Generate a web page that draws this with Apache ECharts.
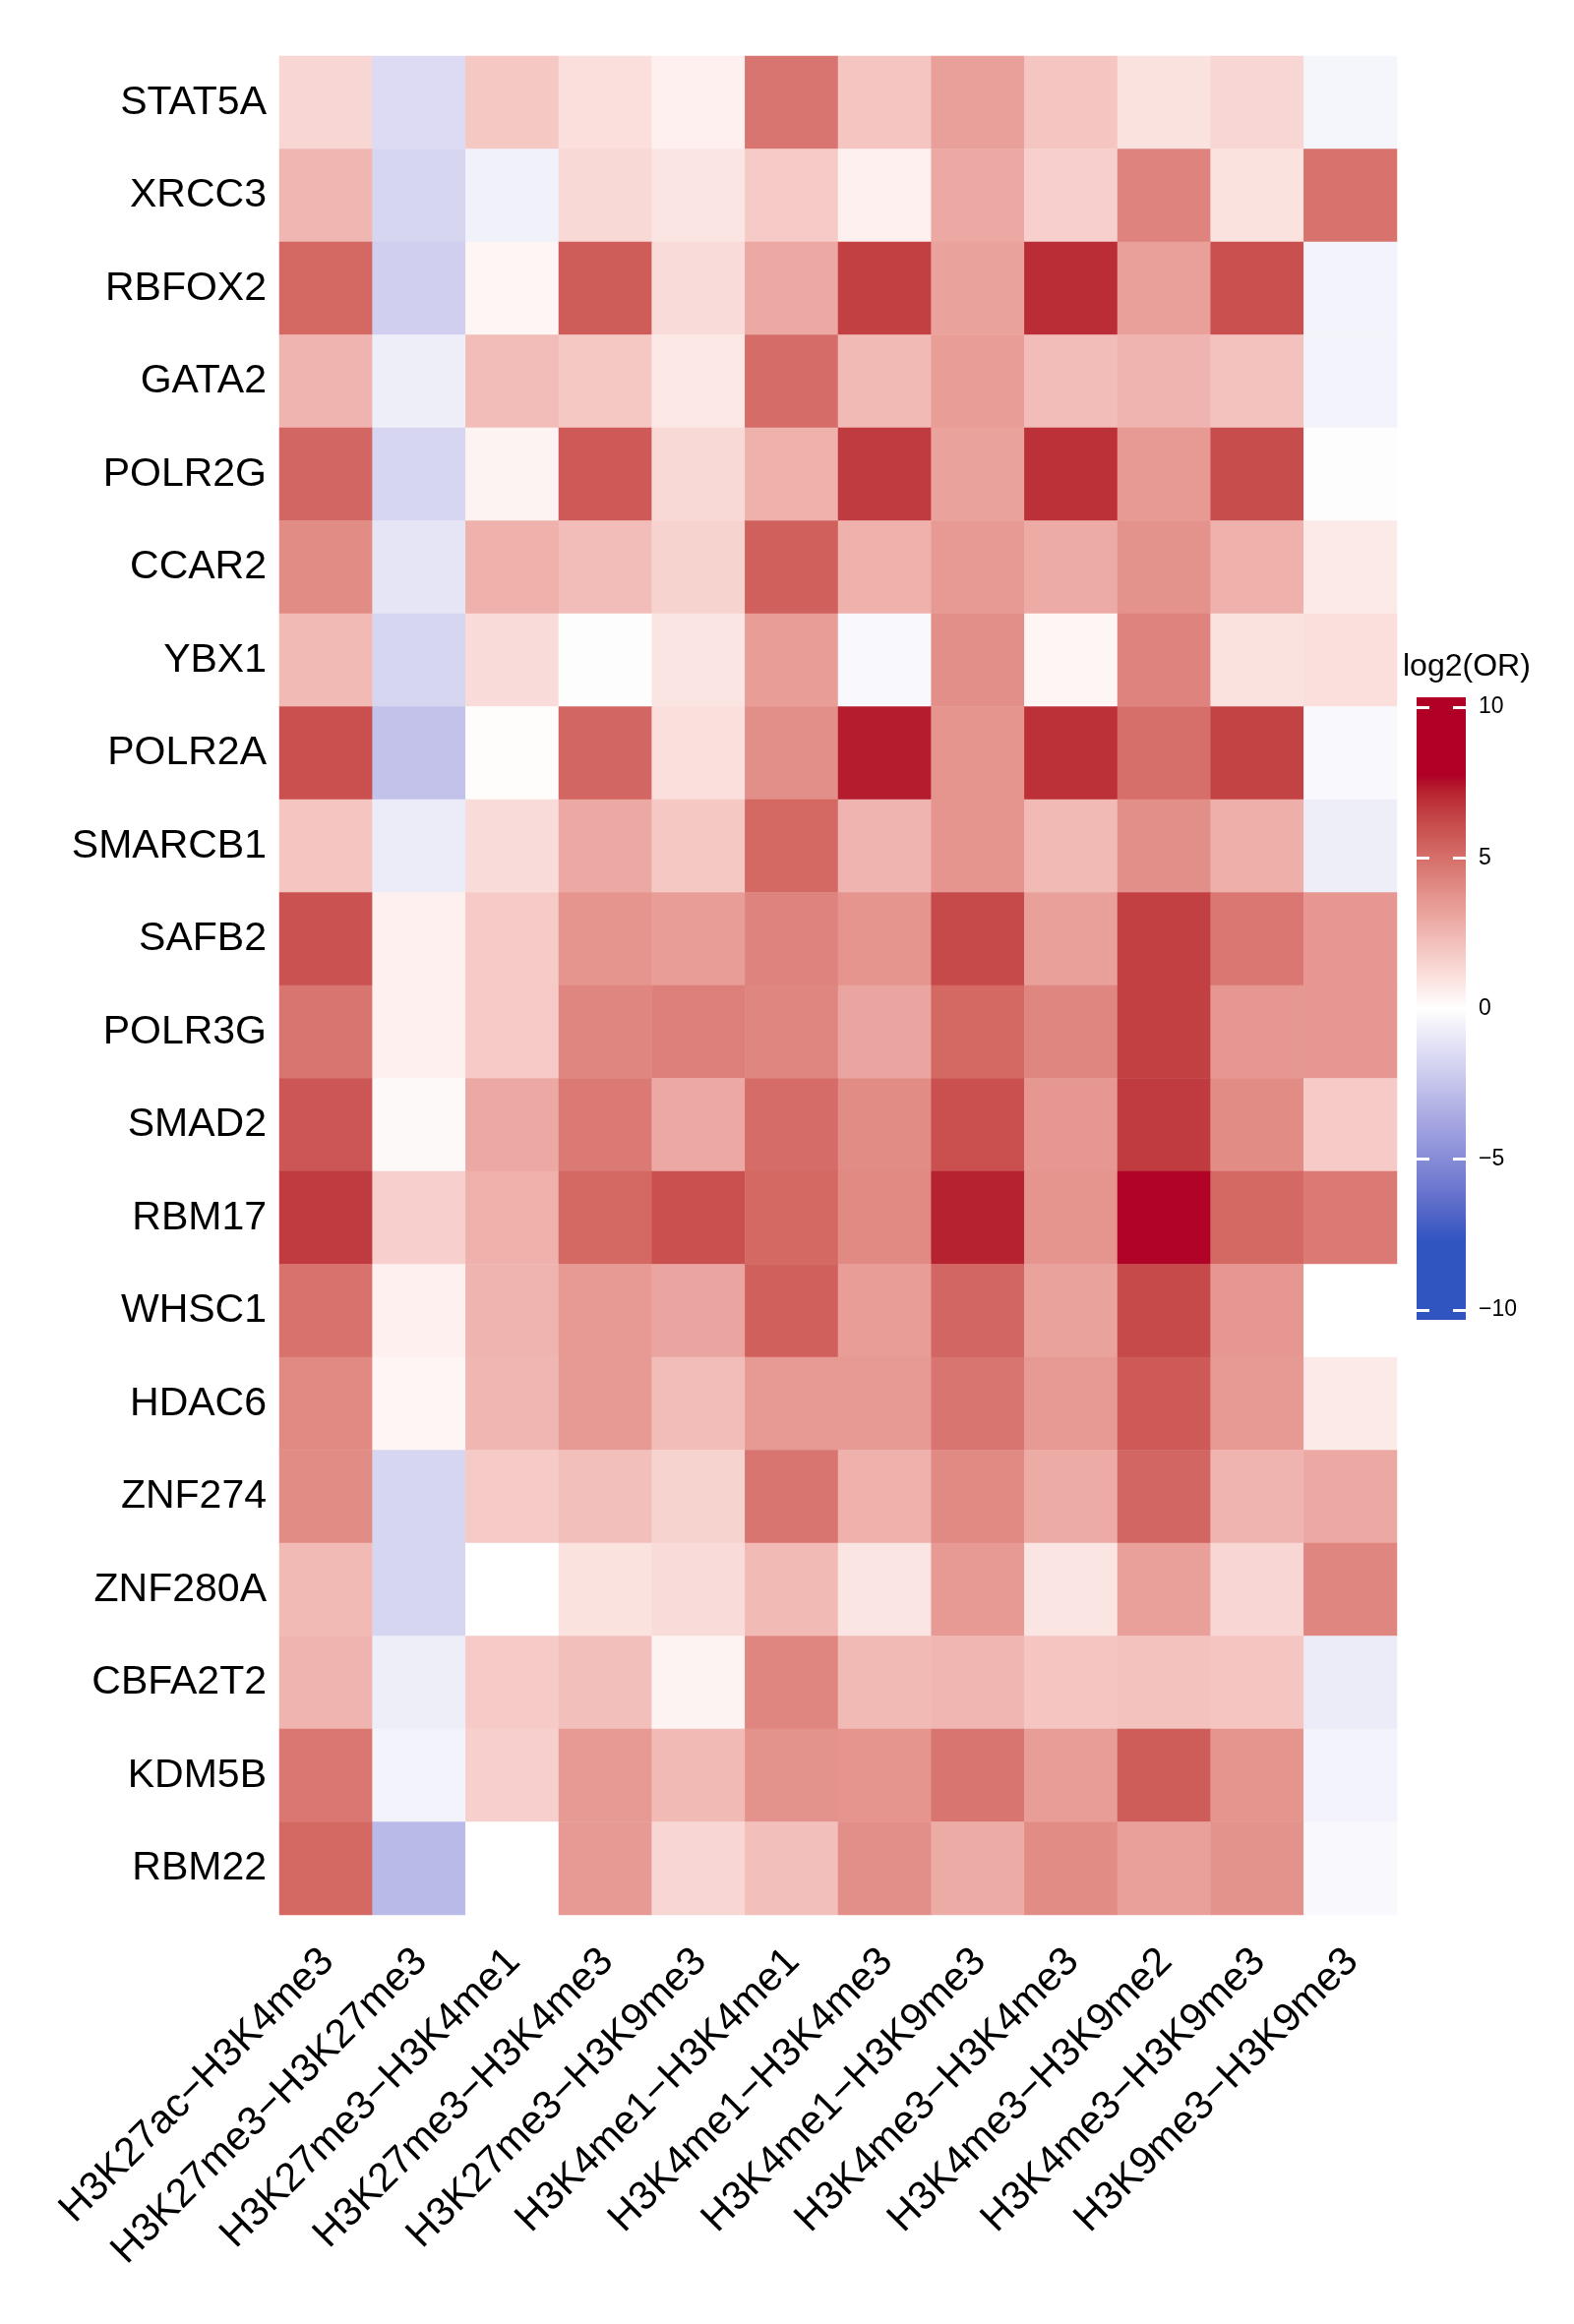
<!DOCTYPE html>
<html>
<head>
<meta charset="utf-8">
<script src="https://cdn.jsdelivr.net/npm/echarts@6/dist/echarts.min.js"></script>
<style>
  html, body { margin: 0; padding: 0; background: #fff; }
  #main { width: 1600px; height: 2363px; }
</style>
</head>
<body>
<div id="main"></div>
<script>
// rows (top to bottom)
var genes = ['STAT5A', 'XRCC3', 'RBFOX2', 'GATA2', 'POLR2G', 'CCAR2', 'YBX1', 'POLR2A', 'SMARCB1', 'SAFB2',
             'POLR3G', 'SMAD2', 'RBM17', 'WHSC1', 'HDAC6', 'ZNF274', 'ZNF280A', 'CBFA2T2', 'KDM5B', 'RBM22'];

// columns (left to right)
var marks = ['H3K27ac\u2212H3K4me3', 'H3K27me3\u2212H3K27me3', 'H3K27me3\u2212H3K4me1', 'H3K27me3\u2212H3K4me3',
             'H3K27me3\u2212H3K9me3', 'H3K4me1\u2212H3K4me1', 'H3K4me1\u2212H3K4me3', 'H3K4me1\u2212H3K9me3',
             'H3K4me3\u2212H3K4me3', 'H3K4me3\u2212H3K9me2', 'H3K4me3\u2212H3K9me3', 'H3K9me3\u2212H3K9me3'];

// log2(OR), one row per gene, same order as genes / marks
var log2OR = [
  [1.4, -1.5, 1.9, 1.1, 0.5, 4.8, 2.0, 3.3, 2.0, 1.0, 1.4, -0.4],   // STAT5A
  [2.5, -1.7, -0.6, 1.3, 0.9, 1.8, 0.5, 3.0, 1.6, 4.3, 1.0, 4.9],   // XRCC3
  [5.2, -2.0, 0.3, 5.6, 1.2, 3.0, 6.5, 3.2, 7.0, 3.3, 6.0, -0.5],   // RBFOX2
  [2.6, -0.7, 2.3, 1.9, 0.8, 5.1, 2.4, 3.4, 2.3, 2.6, 2.1, -0.5],   // GATA2
  [5.3, -1.7, 0.4, 5.7, 1.3, 2.7, 6.6, 3.2, 6.9, 3.5, 6.1, -0.1],   // POLR2G
  [4.0, -1.1, 2.7, 2.3, 1.5, 5.5, 2.7, 3.5, 2.9, 3.8, 2.7, 0.7],    // CCAR2
  [2.4, -1.7, 1.2, -0.1, 0.9, 3.4, -0.3, 3.9, 0.3, 4.3, 1.0, 1.1],  // YBX1
  [6.0, -2.6, 0.1, 5.3, 1.1, 3.9, 7.3, 3.7, 6.9, 5.0, 6.4, -0.3],   // POLR2A
  [2.0, -0.8, 1.2, 3.0, 1.9, 5.2, 2.6, 3.7, 2.4, 3.9, 2.8, -0.7],   // SMARCB1
  [5.9, 0.5, 1.8, 3.7, 3.4, 4.3, 3.7, 6.2, 3.3, 6.5, 4.7, 3.6],     // SAFB2
  [4.8, 0.5, 1.8, 4.2, 4.4, 4.2, 3.1, 5.2, 4.2, 6.5, 3.6, 3.6],     // POLR3G
  [5.8, 0.2, 3.0, 4.6, 3.0, 5.1, 4.0, 6.0, 3.6, 6.6, 4.0, 1.8],     // SMAD2
  [6.6, 1.6, 2.7, 5.2, 6.0, 5.2, 4.1, 7.2, 3.7, 7.7, 5.2, 4.6],     // RBM17
  [4.9, 0.5, 2.6, 3.5, 3.1, 5.5, 3.4, 5.3, 3.2, 6.2, 3.6, 0.0],     // WHSC1
  [4.1, 0.3, 2.5, 3.5, 2.3, 3.5, 3.5, 4.8, 3.5, 5.7, 3.5, 0.7],     // HDAC6
  [4.0, -1.7, 1.8, 2.2, 1.5, 4.8, 2.7, 4.1, 2.9, 5.3, 2.6, 3.0],    // ZNF274
  [2.4, -1.7, 0.0, 1.0, 1.2, 2.4, 0.9, 3.5, 0.9, 3.3, 1.4, 4.2],    // ZNF280A
  [2.6, -0.7, 1.8, 2.2, 0.4, 4.2, 2.4, 2.5, 2.0, 2.1, 2.0, -0.8],   // CBFA2T2
  [4.7, -0.5, 1.6, 3.5, 2.4, 3.8, 3.7, 4.8, 3.4, 5.6, 3.7, -0.5],   // KDM5B
  [5.2, -2.9, 0.0, 3.5, 1.4, 2.2, 3.9, 2.9, 4.0, 3.3, 3.8, -0.3]    // RBM22
];

var legendTicks = [-10, -5, 0, 5, 10];

var FONT = "'Liberation Sans', Arial, Helvetica, sans-serif";

// colour ramp: blue - white - red, interpolated in LAB like colorRamp2
var lowColor = '#3055C0';
var midColor = '#FFFFFF';
var highColor = '#B00026';
var rampLimit = 7.65;

function toLin(c) { c = c / 255; return c <= 0.04045 ? c / 12.92 : Math.pow((c + 0.055) / 1.055, 2.4); }
function fromLin(c) {
    var v = c <= 0.0031308 ? 12.92 * c : 1.055 * Math.pow(c, 1 / 2.4) - 0.055;
    return Math.round(Math.max(0, Math.min(1, v)) * 255);
}
function hexToLab(hex) {
    var r = toLin(parseInt(hex.substr(1, 2), 16)),
        g = toLin(parseInt(hex.substr(3, 2), 16)),
        b = toLin(parseInt(hex.substr(5, 2), 16));
    var X = (0.4124564 * r + 0.3575761 * g + 0.1804375 * b) / 0.95047;
    var Y = (0.2126729 * r + 0.7151522 * g + 0.0721750 * b);
    var Z = (0.0193339 * r + 0.1191920 * g + 0.9503041 * b) / 1.08883;
    function f(t) { return t > 0.008856 ? Math.cbrt(t) : 7.787 * t + 16 / 116; }
    var fx = f(X), fy = f(Y), fz = f(Z);
    return [116 * fy - 16, 500 * (fx - fy), 200 * (fy - fz)];
}
function labToHex(lab) {
    var fy = (lab[0] + 16) / 116, fx = fy + lab[1] / 500, fz = fy - lab[2] / 200;
    function finv(t) { var t3 = t * t * t; return t3 > 0.008856 ? t3 : (t - 16 / 116) / 7.787; }
    var X = 0.95047 * finv(fx), Y = finv(fy), Z = 1.08883 * finv(fz);
    var r = fromLin(3.2404542 * X - 1.5371385 * Y - 0.4985314 * Z);
    var g = fromLin(-0.9692660 * X + 1.8760108 * Y + 0.0415560 * Z);
    var b = fromLin(0.0556434 * X - 0.2040259 * Y + 1.0572252 * Z);
    return '#' + [r, g, b].map(function (c) { return ('0' + c.toString(16)).slice(-2); }).join('');
}
var labLow = hexToLab(lowColor), labMid = hexToLab(midColor), labHigh = hexToLab(highColor);
function rampColor(v) {
    var t = Math.max(-1, Math.min(1, v / rampLimit));
    var end = t < 0 ? labLow : labHigh, k = Math.abs(t);
    return labToHex([0, 1, 2].map(function (i) { return labMid[i] + (end[i] - labMid[i]) * k; }));
}

// colour stops for visualMap (-10 .. 10) and for the legend bar
var rampColors = [];
for (var s = 0; s <= 80; s++) rampColors.push(rampColor(-10 + s * 0.25));

var legendMax = 10.33;
var legendStops = [];
for (var s = 0; s <= 80; s++) {
    var v = legendMax - s * (2 * legendMax / 80);
    legendStops.push({offset: s / 80, color: rampColor(v)});
}

var heatData = [];
for (var i = 0; i < genes.length; i++) {
    for (var j = 0; j < marks.length; j++) {
        heatData.push([j, i, log2OR[i][j]]);
    }
}

function fmtTick(v) {
    return v < 0 ? '\u2212' + Math.abs(v) : String(v);
}

var myChart = echarts.init(document.getElementById('main'), null, {renderer: 'canvas'});

var option = {
    backgroundColor: '#fff',
    animation: false,
    textStyle: {fontFamily: FONT},
    title: {
        text: 'log2(OR)',
        left: 1426,
        top: 662,
        padding: 0,
        textStyle: {fontSize: 32, fontWeight: 'normal', color: '#000', fontFamily: FONT}
    },
    grid: [
        {left: 284, top: 57, width: 1136, height: 1890, outerBoundsMode: 'none'},
        {left: 1440, top: 709, width: 50, height: 633, show: true, borderWidth: 0, outerBoundsMode: 'none',
         backgroundColor: {type: 'linear', x: 0, y: 0, x2: 0, y2: 1, colorStops: legendStops}}
    ],
    xAxis: [
        {
            type: 'category', gridIndex: 0, data: marks, position: 'bottom',
            axisLine: {show: false}, axisTick: {show: false}, splitLine: {show: false},
            axisLabel: {
                interval: 0, rotate: 45, align: 'right', verticalAlign: 'top', margin: 14,
                padding: [0, 18, 0, 0],
                fontSize: 41, color: '#000', fontFamily: FONT
            }
        },
        {type: 'value', gridIndex: 1, show: false}
    ],
    yAxis: [
        {
            type: 'category', gridIndex: 0, data: genes, inverse: true,
            axisLine: {show: false}, axisTick: {show: false}, splitLine: {show: false},
            axisLabel: {interval: 0, margin: 13, padding: [6, 0, 0, 0],
                        fontSize: 41, color: '#000', fontFamily: FONT}
        },
        {
            type: 'value', gridIndex: 1, position: 'left', min: -legendMax, max: legendMax,
            axisLine: {show: false}, splitLine: {show: false},
            axisTick: {show: true, inside: true, length: 13, customValues: legendTicks,
                       lineStyle: {color: '#fff', width: 3}},
            axisLabel: {show: false}
        },
        {
            type: 'value', gridIndex: 1, position: 'right', min: -legendMax, max: legendMax,
            axisLine: {show: false}, splitLine: {show: false},
            axisTick: {show: true, inside: true, length: 13, customValues: legendTicks,
                       lineStyle: {color: '#fff', width: 3}},
            axisLabel: {show: true, customValues: legendTicks, margin: 13, fontSize: 23,
                        color: '#000', fontFamily: FONT, formatter: fmtTick}
        }
    ],
    visualMap: {
        show: false,
        type: 'continuous',
        seriesIndex: 0,
        min: -10,
        max: 10,
        inRange: {color: rampColors}
    },
    series: [
        {
            name: 'log2(OR)',
            type: 'heatmap',
            xAxisIndex: 0,
            yAxisIndex: 0,
            data: heatData,
            itemStyle: {borderWidth: 0},
            emphasis: {disabled: true},
            progressive: 0
        }
    ]
};

myChart.setOption(option);
</script>
</body>
</html>
